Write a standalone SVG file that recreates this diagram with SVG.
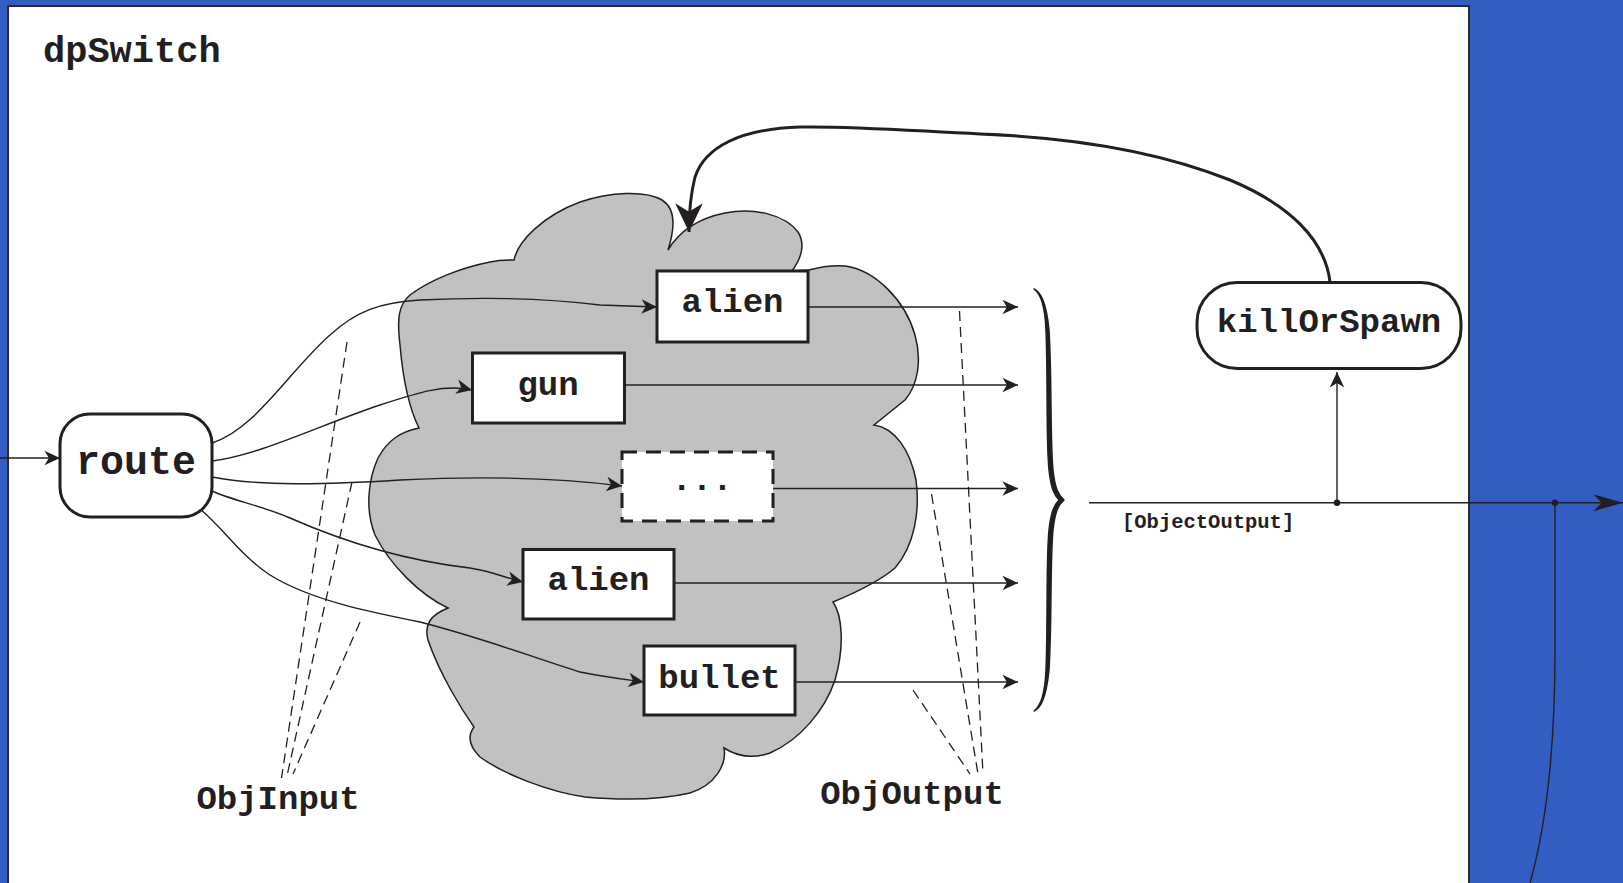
<svg xmlns="http://www.w3.org/2000/svg" width="1623" height="883" viewBox="0 0 1623 883">
<style>
.t{font-family:"Liberation Mono","DejaVu Sans Mono",monospace;font-weight:bold;fill:#231f20}
.box{fill:#fff;stroke:#231f20;stroke-width:3}
.ln{fill:none;stroke:#231f20;stroke-width:1.4}
.dash{fill:none;stroke:#231f20;stroke-width:1.3;stroke-dasharray:10 6}
</style>
<defs>
<marker id="a" markerUnits="userSpaceOnUse" markerWidth="20" markerHeight="20" viewBox="-16 -8 18 16" refX="0" refY="0" orient="auto">
<path d="M0,0 L-14,-6.5 L-10,0 L-14,6.5 Z" fill="#231f20"/>
</marker>
<marker id="big" markerUnits="userSpaceOnUse" markerWidth="34" markerHeight="34" viewBox="-30 -15 32 30" refX="0" refY="0" orient="auto">
<path d="M0,0 L-28,-8 L-20,0 L-28,8 Z" fill="#231f20"/>
</marker>
<marker id="big2" markerUnits="userSpaceOnUse" markerWidth="34" markerHeight="34" viewBox="-30 -15 32 30" refX="0" refY="0" orient="auto">
<path d="M0,0 L-27,-13 L-19,0 L-27,13 Z" fill="#231f20"/>
</marker>
</defs>
<rect x="0" y="0" width="1623" height="883" fill="#345dc4"/>
<rect x="8" y="6" width="1461" height="900" fill="#fff" stroke="#2b2b2b" stroke-width="2"/>
<text class="t" x="43" y="62" font-size="37">dpSwitch</text>

<g id="cloud">
<path d="M514,260 C518,240 545,215 580,202 C610,192 645,190 662,200 C675,208 676,225 668,250 C680,230 700,218 725,213 C755,207 785,215 798,232 C806,245 800,260 792,271 L809,270 C820,267 832,265 845,266 C875,270 905,300 915,335 C922,360 918,385 905,400 L874,425 C895,428 910,450 916,480 C920,510 915,545 895,568 C882,579 862,590 833,602 C842,615 845,645 835,680 C825,710 800,740 770,753 C750,760 735,755 724,748 C727,765 715,785 690,793 C660,800 620,800 585,797 C550,792 505,775 480,757 C468,745 468,735 474,727 C462,710 440,675 428,640 C424,625 430,615 448,608 C420,595 390,565 375,535 C365,510 368,480 378,458 C388,440 400,432 419,428 C410,410 403,380 400,345 C397,320 398,305 410,295 C430,280 460,268 490,262 C500,260 508,260 514,260 Z" fill="#c0c1c3" stroke="#231f20" stroke-width="1.5"/>
</g>

<g id="connectors">
<line class="ln" x1="0" y1="458" x2="60" y2="458" marker-end="url(#a)"/>
<path class="ln" d="M212,443 C255,430 290,370 330,335 C355,312 380,302 420,300 C500,296 560,300 600,305 L657,307" marker-end="url(#a)"/>
<path class="ln" d="M212,461 C260,455 320,425 380,405 C420,392 445,384 472,390" marker-end="url(#a)"/>
<path class="ln" d="M212,477 C260,486 320,485 400,480 C480,476 560,478 622,486" marker-end="url(#a)"/>
<path class="ln" d="M210,490 C230,500 260,505 290,518 C340,540 400,560 470,568 C495,572 505,578 523,582" marker-end="url(#a)"/>
<path class="ln" d="M199,508 C225,530 240,555 270,575 C310,600 370,612 420,622 C490,640 540,660 580,672 C610,678 630,680 644,682" marker-end="url(#a)"/>
<line class="ln" x1="808" y1="307" x2="1018" y2="307" marker-end="url(#a)"/>
<line class="ln" x1="624" y1="385" x2="1018" y2="385" marker-end="url(#a)"/>
<line class="ln" x1="773" y1="488.5" x2="1018" y2="488.5" marker-end="url(#a)"/>
<line class="ln" x1="674" y1="583" x2="1018" y2="583" marker-end="url(#a)"/>
<line class="ln" x1="795" y1="682" x2="1018" y2="682" marker-end="url(#a)"/>
<path d="M1034,289 C1040,292 1046,300 1049,330 C1052,380 1050,440 1053,470 C1055,488 1058,495 1064,500 C1058,505 1055,512 1053,530 C1050,560 1052,620 1049,670 C1046,700 1040,708 1034,711 C1041,706 1045,695 1046,670 C1048,620 1046,560 1049,530 C1051,512 1054,505 1059,500 C1054,495 1051,488 1049,470 C1046,440 1048,380 1046,330 C1045,305 1041,294 1034,289 Z" fill="#231f20" stroke="#231f20" stroke-width="1.5" stroke-linejoin="round"/>
<line class="ln" x1="1089" y1="502.7" x2="1623" y2="502.7" marker-end="url(#big)"/>
<line class="ln" x1="1337" y1="502.7" x2="1337" y2="372" marker-end="url(#a)"/>
<circle cx="1337" cy="502.7" r="3.2" fill="#231f20"/>
<circle cx="1555" cy="502.7" r="3.2" fill="#231f20"/>
<path class="ln" d="M1555,502.7 L1555,650 C1555,760 1545,830 1530,883"/>
<path d="M1330,282 C1325,240 1290,205 1230,180 C1150,148 1060,137 980,134 C900,130 850,126 800,127 C740,129 705,147 695,177 C690,197 689,214 689,232" fill="none" stroke="#231f20" stroke-width="3" marker-end="url(#big2)"/>
<line class="dash" x1="347" y1="342" x2="281.5" y2="778"/>
<line class="dash" x1="352" y1="482" x2="287" y2="776"/>
<line class="dash" x1="360" y1="622" x2="293" y2="774"/>
<line class="dash" x1="959.5" y1="311" x2="983" y2="774"/>
<line class="dash" x1="931.5" y1="494" x2="978" y2="774"/>
<line class="dash" x1="913" y1="690" x2="970" y2="774"/>
</g>

<g id="route">
<rect class="box" x="60" y="414" width="152" height="103" rx="30"/>
<text class="t" x="136" y="474" font-size="40" text-anchor="middle">route</text>
</g>
<g id="alien1">
<rect class="box" x="657" y="271" width="151" height="71"/>
<text class="t" x="732.5" y="312" font-size="34" text-anchor="middle">alien</text>
</g>
<g id="gun">
<rect class="box" x="472.5" y="353" width="152" height="70"/>
<text class="t" x="548" y="395" font-size="34" text-anchor="middle">gun</text>
</g>
<g id="more">
<rect x="622" y="452" width="151" height="69" fill="#fff" stroke="#231f20" stroke-width="3" stroke-dasharray="15 9"/>
<text class="t" x="702" y="490" font-size="34" text-anchor="middle">...</text>
</g>
<g id="alien2">
<rect class="box" x="523" y="549.5" width="151" height="69.5"/>
<text class="t" x="598.5" y="590" font-size="34" text-anchor="middle">alien</text>
</g>
<g id="bullet">
<rect class="box" x="644" y="646" width="151" height="69"/>
<text class="t" x="719.5" y="688" font-size="34" text-anchor="middle">bullet</text>
</g>
<g id="killOrSpawn">
<rect class="box" x="1197" y="282.5" width="264" height="86" rx="40"/>
<text class="t" x="1329" y="332" font-size="34" text-anchor="middle">killOrSpawn</text>
</g>
<g id="labels">
<text class="t" x="1122" y="528" font-size="20.5">[ObjectOutput]</text>
<text class="t" x="278" y="809" font-size="34" text-anchor="middle">ObjInput</text>
<text class="t" x="912" y="804" font-size="34" text-anchor="middle">ObjOutput</text>
</g>
</svg>
